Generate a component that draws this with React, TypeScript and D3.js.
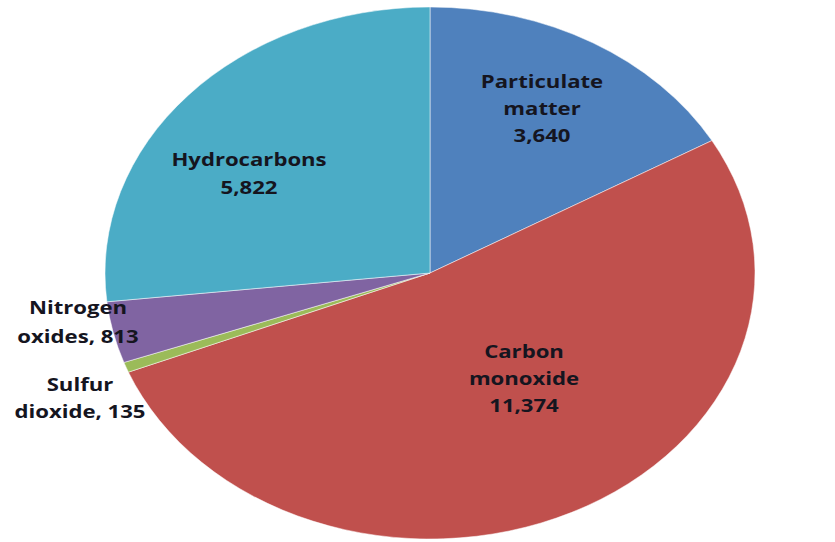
import React, { useEffect, useRef } from "react";
import * as d3 from "d3";

const categories = ["Particulate matter", "Carbon monoxide", "Sulfur dioxide", "Nitrogen oxides", "Hydrocarbons"];
const values = [3640, 11374, 135, 813, 5822];
const colors = ["#4F81BD", "#C0504D", "#9BBB59", "#8064A2", "#4BACC6"];

// label lines (text only)
const labelLines: Record<string, string[]> = {
  "Particulate matter": ["Particulate", "matter", "3,640"],
  "Carbon monoxide": ["Carbon", "monoxide", "11,374"],
  "Sulfur dioxide": ["Sulfur", "dioxide, 135"],
  "Nitrogen oxides": ["Nitrogen", "oxides, 813"],
  Hydrocarbons: ["Hydrocarbons", "5,822"],
};

const W = 835;
const H = 542;

const App = () => {
  const svgRef = useRef<SVGSVGElement>(null);

  useEffect(() => {
    const svg = d3.select(svgRef.current);
    svg.selectAll("*").remove();

    const cx = 430;
    const cy = 273;
    const rx = 325;
    const ry = 266;
    const r = 100;

    const data = categories.map((c, i) => ({ name: c, value: values[i], color: colors[i] }));
    const pie = d3.pie<any>().value((d) => d.value).sort(null);
    const arc = d3.arc<any>().innerRadius(0).outerRadius(r);

    // the original is a round pie stretched sideways
    const g = svg
      .append("g")
      .attr("transform", `translate(${cx},${cy}) scale(${rx / r},${ry / r})`);

    g.selectAll("path")
      .data(pie(data))
      .enter()
      .append("path")
      .attr("d", arc)
      .attr("fill", (d) => d.data.color)
      .attr("stroke", "rgba(255,255,255,0.5)")
      .attr("stroke-width", 1)
      .attr("vector-effect", "non-scaling-stroke");

    // label placement (centre x, first line centre y, line height) per slice
    const labelPos: Record<string, [number, number, number]> = {
      "Particulate matter": [542, 82, 27],
      "Carbon monoxide": [524, 352, 27],
      "Sulfur dioxide": [80, 385, 27],
      "Nitrogen oxides": [78, 308, 29],
      Hydrocarbons: [249, 160, 28],
    };

    const labels = svg.append("g");
    data.forEach((d) => {
      const [x, y, lh] = labelPos[d.name];
      const t = labels
        .append("text")
        .attr("transform", `translate(${x},${y}) scale(1.23,1)`)
        .attr("text-anchor", "middle")
        .attr("font-family", "'Open Sans', sans-serif")
        .attr("font-weight", 700)
        .attr("font-size", 18)
        .attr("fill", "#15151f");
      labelLines[d.name].forEach((line, i) => {
        t.append("tspan")
          .attr("x", 0)
          .attr("y", i * lh)
          .attr("dy", "0.35em")
          .text(line);
      });
    });
  }, []);

  return (
    <svg
      ref={svgRef}
      width={W}
      height={H}
      style={{ position: "absolute", left: 0, top: 0, background: "#fff" }}
    />
  );
};

export default App;
